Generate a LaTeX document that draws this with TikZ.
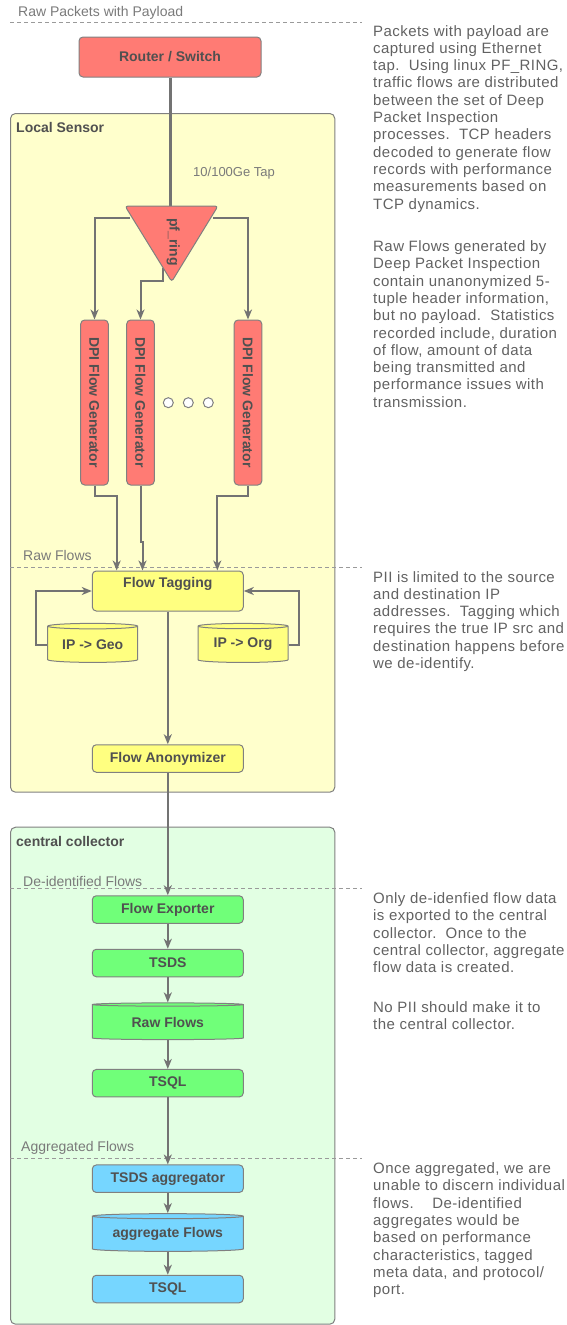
\documentclass[tikz,border=0pt]{standalone}
\usepackage{fontspec}
\setmainfont{Liberation Sans}
\newfontfamily\notefont[LetterSpace=3]{Liberation Sans}
\usetikzlibrary{arrows.meta,shapes.geometric,positioning,calc}

\definecolor{inkgray}{HTML}{505050}
\definecolor{notegray}{HTML}{626262}
\definecolor{labelgray}{HTML}{7A7A7A}
\definecolor{edgegray}{HTML}{808080}
\definecolor{wiregray}{HTML}{737373}
\definecolor{dashgray}{HTML}{9A9A9A}
\definecolor{nodered}{HTML}{FF7B74}
\definecolor{nodeyellow}{HTML}{FFFF80}
\definecolor{nodegreen}{HTML}{70FF79}
\definecolor{nodeblue}{HTML}{76D6FF}
\definecolor{sensorbg}{HTML}{FFFFCC}
\definecolor{collectorbg}{HTML}{E2FFE3}

\tikzset{
  box/.style={draw=edgegray, line width=1pt, rounded corners=4pt, text=inkgray,
    font=\bfseries\fontsize{14}{16}\selectfont, inner sep=0pt},
  redbox/.style={box, fill=nodered},
  yellowbox/.style={box, fill=nodeyellow, minimum width=151, minimum height=27.5},
  greenbox/.style={box, fill=nodegreen, minimum width=151, minimum height=27.5},
  bluebox/.style={box, fill=nodeblue, minimum width=151, minimum height=27.5},
  dpibox/.style={redbox, rotate=-90, minimum width=165, minimum height=27.6},
  db/.style={cylinder, shape border rotate=90, draw=edgegray, line width=1pt,
    text=inkgray, font=\bfseries\fontsize{14}{16}\selectfont, inner sep=0pt},
  region/.style={draw=edgegray, line width=1pt, rounded corners=5pt, anchor=north west, inner sep=0pt},
  regionlabel/.style={text=inkgray, font=\bfseries\fontsize{14}{16}\selectfont, anchor=west, inner sep=0pt},
  sect/.style={text=labelgray, font=\fontsize{14}{16}\selectfont, anchor=west, inner sep=0pt},
  divider/.style={draw=dashgray, line width=1pt, dash pattern=on 4pt off 3pt},
  note/.style={text=notegray, font=\notefont\fontsize{15}{17.3}\selectfont, align=left,
    anchor=north west, inner sep=0pt},
  wire/.style={draw=wiregray, line width=2pt},
  flow/.style={wire, -{Stealth[length=10pt,width=8pt,inset=3pt]}},
  dot/.style={circle, draw=edgegray, fill=white, line width=1pt, minimum size=10, inner sep=0pt},
}

\begin{document}
\begin{tikzpicture}[x=1pt,y=-1pt]
\useasboundingbox (0,0) rectangle (566,1325);

\draw (10,113) node(sensor)[region, fill=sensorbg, minimum width=324.3, minimum height=678.7] {};
\draw (10,826.7) node(collector)[region, fill=collectorbg, minimum width=324.3, minimum height=497] {};
\draw (16,127) node(sensorlabel)[regionlabel] {Local Sensor};
\draw (16,841) node(collectorlabel)[regionlabel] {central collector};

\draw[divider] (10,22) -- (362,22);
\draw[divider] (10,567.3) -- (362,567.3);
\draw[divider] (10,888.3) -- (362,888.3);
\draw[divider] (10,1158.3) -- (362,1158.3);
\draw (18,13) node(rawpackets)[sect] {Raw Packets with Payload};
\draw (23,555) node(rawflowslabel)[sect] {Raw Flows};
\draw (23,881) node(deidlabel)[sect] {De-identified Flows};
\draw (21,1148) node(agglabel)[sect] {Aggregated Flows};
\draw (193,173) node(tap)[sect, text=labelgray, font=\fontsize{13}{15}\selectfont] {10/100Ge Tap};

\draw (170,57) node(router)[redbox, minimum width=182, minimum height=40] {Router / Switch};
\draw (94.5,402.5) node(dpi1)[dpibox] {DPI Flow Generator};
\draw (140.5,402.5) node(dpi2)[dpibox] {DPI Flow Generator};
\draw (248,402.5) node(dpi3)[dpibox] {DPI Flow Generator};
\foreach \i/\x in {1/168.3,2/188.3,3/208.3}
  \draw (\x,402.7) node(dot\i)[dot] {};

\draw (167.8,591) node(tag)[yellowbox, minimum height=40, text height=10, text depth=18] {Flow Tagging};
\draw (92.7,644.5) node(geo)[db, fill=nodeyellow, minimum width=90, minimum height=39, aspect=0.09] {IP -> Geo};
\draw (243,644.5) node(org)[db, fill=nodeyellow, minimum width=90, minimum height=39, aspect=0.09] {IP -> Org};
\draw (167.8,758.5) node(anon)[yellowbox] {Flow Anonymizer};

\draw (167.8,909.5) node(exporter)[greenbox] {Flow Exporter};
\draw (167.8,963) node(tsds)[greenbox] {TSDS};
\draw (167.8,1022.3) node(rawflows)[db, fill=nodegreen, minimum width=151, minimum height=36.7, aspect=0.045] {Raw Flows};
\draw (167.8,1083.2) node(tsql)[greenbox] {TSQL};

\draw (167.8,1178.7) node(aggregator)[bluebox] {TSDS aggregator};
\draw (167.8,1234) node(aggflows)[db, fill=nodeblue, minimum width=151, minimum height=37.7, aspect=0.045] {aggregate Flows};
\draw (167.8,1289) node(tsql2)[bluebox] {TSQL};

\coordinate (pfT) at (170,206);
\coordinate (pfL) at (130,218);
\coordinate (pfR) at (213,218);
\coordinate (pfB) at (162.7,268);

\draw[wire, line width=3pt] (router.south) -- (pfT);
\draw[flow] (pfL) -| (dpi1.west);
\draw[flow] (pfR) -| (dpi3.west);
\draw[flow] (pfB) -- (162.7,281) -| (dpi2.west);

\draw[flow] (dpi1.east) -- ++(0,10) -| ([xshift=-51.1pt]tag.north);
\draw[flow] (dpi2.east) -- ++(0,56) -- ++(2,0) -- ([xshift=-25.3pt]tag.north);
\draw[flow] (dpi3.east) -- ++(0,10) -| ([xshift=49.5pt]tag.north);

\draw[flow] (geo.west) -- ++(-11,0) |- (tag.west);
\draw[flow] (org.east) -- ++(10,0) |- (tag.east);
\draw[flow] (tag.south) -- (anon.north);
\draw[flow] (anon.south) -- (exporter.north);
\draw[flow] (exporter.south) -- (tsds.north);
\draw[flow] (tsds.south) -- (rawflows.north);
\draw[flow] (rawflows.south) -- (tsql.north);
\draw[flow] (tsql.south) -- (aggregator.north);
\draw[flow] (aggregator.south) -- (aggflows.north);
\draw[flow] (aggflows.south) -- (tsql2.north);

\draw[draw=edgegray, line width=1pt, fill=nodered, rounded corners=3pt]
  (125,206) -- (218,206) -- (171.7,281.7) -- cycle;
\draw (173.3,242) node(pfring)[rotate=-90, text=inkgray, font=\bfseries\fontsize{14}{16}\selectfont, inner sep=0pt] {pf\_ring};

\draw (373,25) node(note1)[note] {Packets with payload are\\
captured using Ethernet\\
tap.~~Using linux PF\_RING,\\
traffic flows are distributed\\
between the set of Deep\\
Packet Inspection\\
processes.~~TCP headers\\
decoded to generate flow\\
records with performance\\
measurements based on\\
TCP dynamics.};
\draw (373,240.5) node(note2)[note] {Raw Flows generated by\\
Deep Packet Inspection\\
contain unanonymized 5-\\
tuple header information,\\
but no payload.~~Statistics\\
recorded include, duration\\
of flow, amount of data\\
being transmitted and\\
performance issues with\\
transmission.};
\draw (373,571) node(note3)[note] {PII is limited to the source\\
and destination IP\\
addresses.~~Tagging which\\
requires the true IP src and\\
destination happens before\\
we de-identify.};
\draw (373,892.5) node(note4)[note] {Only de-idenfied flow data\\
is exported to the central\\
collector.~~Once to the\\
central collector, aggregate\\
flow data is created.};
\draw (373,1001.5) node(note5)[note] {No PII should make it to\\
the central collector.};
\draw (373,1162.5) node(note6)[note] {Once aggregated, we are\\
unable to discern individual\\
flows.~~~~De-identified\\
aggregates would be\\
based on performance\\
characteristics, tagged\\
meta data, and protocol/\\
port.};
\end{tikzpicture}
\end{document}
